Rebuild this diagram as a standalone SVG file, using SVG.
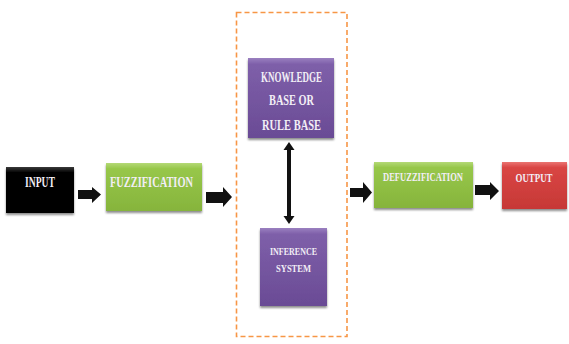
<svg xmlns="http://www.w3.org/2000/svg" width="569" height="344" viewBox="0 0 569 344">
<defs>
<style>
.lbl{font-family:"Liberation Serif","DejaVu Serif",serif;font-weight:bold;fill:#f2eef6;text-anchor:middle}
.arr{fill:#111}
.box{filter:url(#sh)}
</style>
<linearGradient id="gBlack" x1="0" y1="0" x2="0" y2="1">
<stop offset="0" stop-color="#3a3a3a"/><stop offset="0.12" stop-color="#050505"/><stop offset="1" stop-color="#000"/>
</linearGradient>
<linearGradient id="gGreen" x1="0" y1="0" x2="0" y2="1">
<stop offset="0" stop-color="#b4d977"/><stop offset="0.12" stop-color="#97c74a"/><stop offset="1" stop-color="#86b43c"/>
</linearGradient>
<linearGradient id="gPurple" x1="0" y1="0" x2="0" y2="1">
<stop offset="0" stop-color="#9a80c0"/><stop offset="0.08" stop-color="#7e5fa9"/><stop offset="1" stop-color="#6a4b95"/>
</linearGradient>
<linearGradient id="gRed" x1="0" y1="0" x2="0" y2="1">
<stop offset="0" stop-color="#ea7371"/><stop offset="0.12" stop-color="#d94644"/><stop offset="1" stop-color="#c63836"/>
</linearGradient>
<linearGradient id="gArr" x1="0" y1="0" x2="0" y2="1">
<stop offset="0" stop-color="#555"/><stop offset="0.4" stop-color="#111"/><stop offset="1" stop-color="#000"/>
</linearGradient>
<filter id="sh" x="-2%" y="-5%" width="104%" height="120%">
<feGaussianBlur in="SourceAlpha" stdDeviation="1.2"/>
<feOffset dx="0" dy="2" result="b"/>
<feComponentTransfer><feFuncA type="linear" slope="0.45"/></feComponentTransfer>
<feMerge><feMergeNode/><feMergeNode in="SourceGraphic"/></feMerge>
</filter>
</defs>
<rect width="569" height="344" fill="#fff"/>

<g id="inference-engine-frame">
<rect x="236.5" y="12.5" width="110.5" height="324" fill="none" stroke="#f79646" stroke-width="1.6" stroke-dasharray="5,3"/>
</g>

<g id="connectors">
<path class="arr" fill="url(#gArr)" d="M78 190 H92 V187 L101 194.5 L92 203 V199 H78 Z"/>
<path class="arr" fill="url(#gArr)" d="M206 192 H223 V187 L232 197 L223 207 V203 H206 Z"/>
<path class="arr" fill="url(#gArr)" d="M350 188 H363 V182 L372 192.5 L363 203 V197 H350 Z"/>
<path class="arr" fill="url(#gArr)" d="M475 185 H490 V182 L499 191 L490 200 V195 H475 Z"/>
<path class="arr" d="M289 142 L294.5 150 H291 V216 H294.5 L289 224 L283.5 216 H287 V150 H283.5 Z"/>
</g>

<g id="input">
<rect class="box" x="6" y="167" width="68" height="46" fill="url(#gBlack)"/>
<text class="lbl" x="40" y="187" font-size="14" textLength="30" lengthAdjust="spacingAndGlyphs">INPUT</text>
</g>

<g id="fuzzification">
<rect class="box" x="106" y="163" width="96" height="48" fill="url(#gGreen)"/>
<text class="lbl" x="151.5" y="187" font-size="14" textLength="83" lengthAdjust="spacingAndGlyphs">FUZZIFICATION</text>
</g>

<g id="knowledge-base">
<rect class="box" x="248" y="58" width="86" height="80" fill="url(#gPurple)"/>
<text class="lbl" x="291.5" y="82" font-size="14" textLength="61" lengthAdjust="spacingAndGlyphs">KNOWLEDGE</text>
<text class="lbl" x="291.5" y="105" font-size="14" textLength="45" lengthAdjust="spacingAndGlyphs">BASE OR</text>
<text class="lbl" x="291.5" y="130" font-size="14" textLength="59" lengthAdjust="spacingAndGlyphs">RULE BASE</text>
</g>

<g id="inference-system">
<rect class="box" x="260" y="228" width="67" height="78" fill="url(#gPurple)"/>
<text class="lbl" x="293.5" y="255" font-size="11" textLength="47" lengthAdjust="spacingAndGlyphs">INFERENCE</text>
<text class="lbl" x="293.5" y="272" font-size="11" textLength="35" lengthAdjust="spacingAndGlyphs">SYSTEM</text>
</g>

<g id="defuzzification">
<rect class="box" x="374" y="162" width="99" height="46" fill="url(#gGreen)"/>
<text class="lbl" x="423" y="181" font-size="12.5" textLength="80" lengthAdjust="spacingAndGlyphs">DEFUZZIFICATION</text>
</g>

<g id="output">
<rect class="box" x="502" y="162" width="65" height="47" fill="url(#gRed)"/>
<text class="lbl" x="534" y="182" font-size="13" textLength="37" lengthAdjust="spacingAndGlyphs">OUTPUT</text>
</g>
</svg>
